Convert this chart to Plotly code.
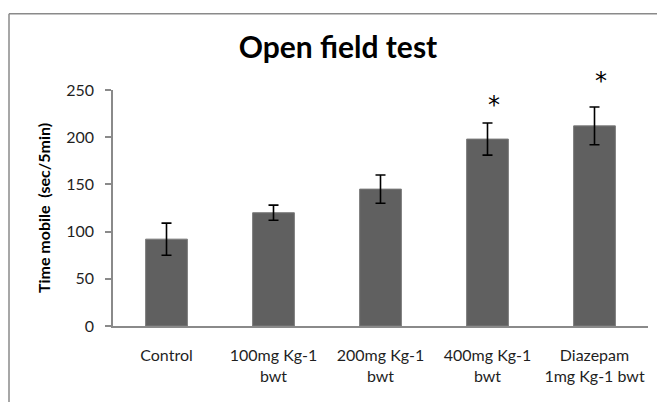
import plotly.graph_objects as go

categories = ["Control", "100mg Kg-1<br>bwt", "200mg Kg-1<br>bwt", "400mg Kg-1<br>bwt", "Diazepam<br>1mg Kg-1 bwt"]
time_mobile = [92, 120, 145, 198, 212]
sem = [17, 8, 15, 17, 20]
sig_y = [None, None, None, 238, 264]
y_ticks = [0, 50, 100, 150, 200, 250]
y_max = 250

W, H = 657, 402
L, R, T, B = 113, 9, 89.5, 76
pw = W - L - R
ph = H - T - B

fig = go.Figure()
fig.add_trace(go.Bar(
    x=categories, y=time_mobile,
    marker=dict(color="#606060", line=dict(color="#7a7a7a", width=1)),
    error_y=dict(type="data", array=sem, visible=True, color="#000000", thickness=1.6, width=5),
    width=0.39,
))

for c, s in zip(categories, sig_y):
    if s is not None:
        fig.add_annotation(x=c, xref="x", y=s / y_max, yref="paper", text="*", showarrow=False,
                           xshift=6, yshift=-4,
                           font=dict(family="DejaVu Sans", size=24, color="#000000"),
                           yanchor="middle", xanchor="center")

def px_x(p):
    return (p - L) / pw

def px_y(p):
    return (H - B - p) / ph

frame = "#8a8a8a"
fig.add_shape(type="line", xref="paper", yref="paper", x0=px_x(9), x1=px_x(W + 5), y0=px_y(13), y1=px_y(13),
              line=dict(color=frame, width=1.5))
fig.add_shape(type="line", xref="paper", yref="paper", x0=px_x(9), x1=px_x(9), y0=px_y(13), y1=px_y(H + 5),
              line=dict(color=frame, width=1.5))

fig.update_layout(
    width=W, height=H,
    margin=dict(l=L, r=R, t=T, b=B),
    paper_bgcolor="white", plot_bgcolor="white",
    showlegend=False,
    title=dict(text="<b>Open field test</b>", x=338 / W, xanchor="center", y=1 - 47 / H, yanchor="middle",
               xref="container", yref="container",
               font=dict(family="Lato", size=30, color="#000000")),
    font=dict(family="Lato", size=16, color="#1f1f1f"),
)
fig.update_xaxes(
    showline=True, linecolor="#8a8a8a", linewidth=1.5, ticks="", showgrid=False,
    tickfont=dict(family="Lato", size=16, color="#1f1f1f"), ticklabelstandoff=14,
)
fig.update_yaxes(
    range=[0, y_max], tickvals=y_ticks, showline=True, linecolor="#8a8a8a", linewidth=1.5,
    ticks="outside", ticklen=6, tickcolor="#8a8a8a", tickwidth=1.5, showgrid=False, zeroline=False,
    tickfont=dict(family="Lato", size=16, color="#1f1f1f"), ticklabelstandoff=8,
    title=dict(text="<b>Time mobile  (sec/5min)</b>", font=dict(family="Lato", size=16, color="#000000"), standoff=12),
)

fig.write_html("out.html", config={"displayModeBar": False},
               post_script="document.body.style.margin='0';document.body.style.overflow='hidden';")
